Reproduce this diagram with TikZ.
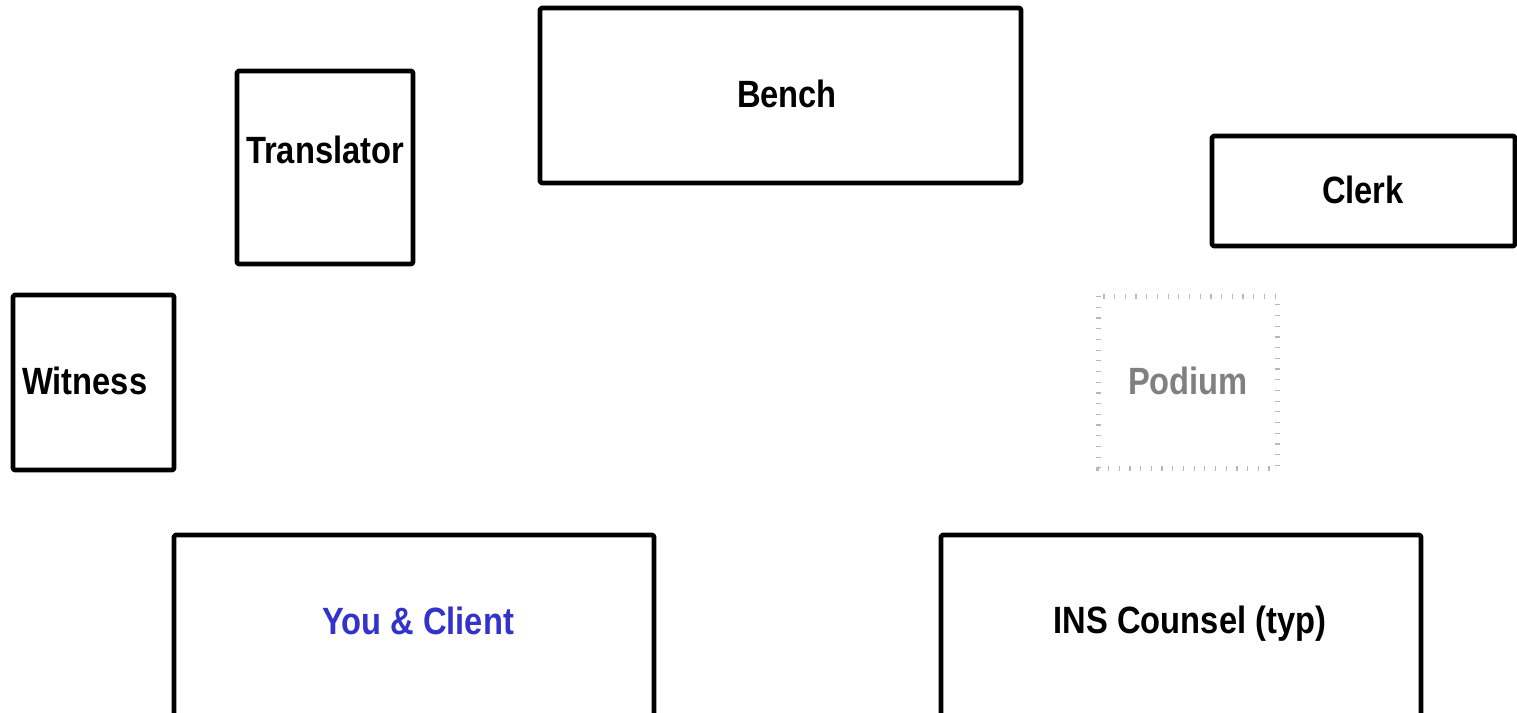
\documentclass[tikz,border=0pt]{standalone}
\usepackage{fontspec}
\setmainfont{Liberation Sans}[FakeStretch=0.86]
\definecolor{youblue}{HTML}{3333CC}
\definecolor{podgray}{HTML}{808080}
\definecolor{podline}{HTML}{B8B8B8}
\begin{document}
\begin{tikzpicture}[x=1pt,y=-1pt,
  box/.style={draw=black,line width=4.6pt,line join=round,rounded corners=1.5pt},
  podbox/.style={draw=podline,line width=5pt,dash pattern=on 1.2pt off 9.5pt},
  lbl/.style={font=\fontsize{38}{40}\selectfont\bfseries,inner sep=0pt}]
\useasboundingbox (0,0) rectangle (1517,712);
\clip (0,0) rectangle (1517,712);
\fill[white] (0,0) rectangle (1517,712);
% boxes
\draw[box] (540,8) rectangle (1021,183);
\coordinate (benchc) at (787,94);
\draw[box] (237,71) rectangle (413,264);
\coordinate (transc) at (325,150);
\draw[box] (1212,136) rectangle (1515,246);
\coordinate (clerkc) at (1363,190);
\draw[box] (13,295) rectangle (174,470);
\coordinate (witw) at (22,381);
\draw[podbox] (1098,296) rectangle (1277,468);
\coordinate (podc) at (1188,381);
\draw[box] (174,535) rectangle (654,730);
\coordinate (youc) at (418,621);
\draw[box] (941,535) rectangle (1421,730);
\coordinate (insc) at (1190,624);
% labels
\node[lbl] (bench) at (benchc) {Bench};
\node[lbl] (translator) at (transc) {Translator};
\node[lbl] (clerk) at (clerkc) {Clerk};
\node[lbl,anchor=west] (witness) at (witw) {Witness};
\node[lbl,text=podgray] (podium) at (podc) {Podium};
\node[lbl,text=youblue] (you) at (youc) {You \& Client};
\node[lbl] (ins) at (insc) {INS Counsel (typ)};
\end{tikzpicture}
\end{document}
